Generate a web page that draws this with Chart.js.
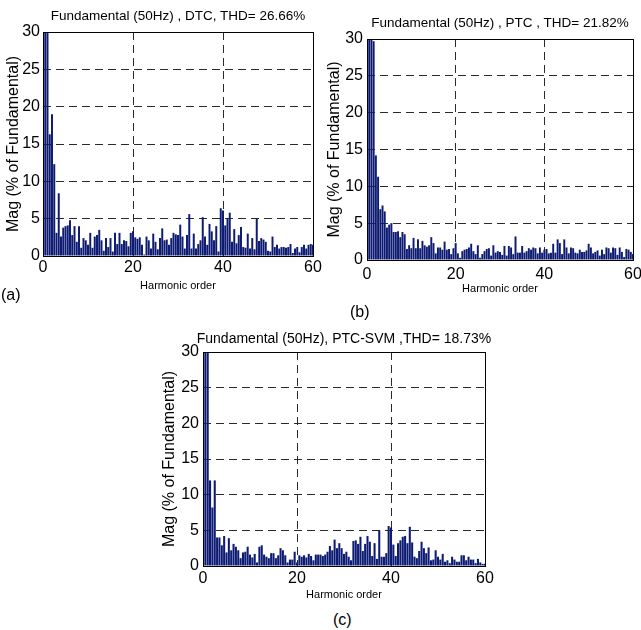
<!DOCTYPE html>
<html>
<head>
<meta charset="utf-8">
<script src="https://cdn.jsdelivr.net/npm/chart.js@4.4.1/dist/chart.umd.min.js"></script>
<style>
  html, body { margin: 0; padding: 0; background: #fff; width: 641px; height: 630px; overflow: hidden; }
  canvas { position: absolute; }
  .txt { position: absolute; font-family: "Liberation Sans", Arial, sans-serif; color: #000; line-height: 1; white-space: nowrap; }
  .ttl { transform: translateX(-50%); }
</style>
</head>
<body>
<canvas id="spectrumA" width="340" height="300" style="left:0px;top:0px"></canvas>
<canvas id="spectrumB" width="330" height="300" style="left:322px;top:0px"></canvas>
<canvas id="spectrumC" width="345" height="310" style="left:155px;top:300px"></canvas>

<div class="txt ttl" style="left:178px;top:8.5px;font-size:13.5px">Fundamental (50Hz) , DTC, THD= 26.66%</div>
<div class="txt ttl" style="left:500px;top:15.8px;font-size:13.5px">Fundamental (50Hz) , PTC , THD= 21.82%</div>
<div class="txt ttl" style="left:344px;top:330.5px;font-size:14px">Fundamental (50Hz), PTC-SVM ,THD= 18.73%</div>

<div class="txt" style="left:1px;top:287px;font-size:16px">(a)</div>
<div class="txt" style="left:350px;top:304px;font-size:16px">(b)</div>
<div class="txt" style="left:333px;top:612px;font-size:16px">(c)</div>

<script>
// Harmonic orders of the FFT bins (half-harmonic resolution, 0 … 60)
const harmonicOrders = [];
for (let k = 0; k <= 120; k++) harmonicOrders.push(k / 2);

// Magnitudes in % of the fundamental, one value per bin
const dtcMag = [
  31, 40, 100, 16.3, 19.0, 12.3, 3.1, 8.4, 2.6, 3.8,
  4.0, 4.1, 4.8, 2.8, 4.0, 1.9, 4.0, 1.1, 2.4, 2.1,
  1.5, 3.1, 1.1, 2.6, 2.8, 3.5, 2.1, 0.7, 2.4, 1.2,
  2.4, 0.6, 3.1, 1.6, 3.1, 1.6, 2.1, 2.0, 1.3, 3.1,
  3.3, 2.5, 2.3, 2.5, 1.5, 0.2, 2.6, 2.1, 1.0, 3.0,
  1.9, 0.9, 2.4, 3.7, 2.1, 2.2, 1.5, 2.4, 3.1, 2.9,
  2.8, 4.2, 2.6, 1.0, 2.8, 5.6, 1.0, 3.0, 1.0, 1.6,
  2.1, 5.2, 2.6, 1.5, 4.3, 3.3, 2.1, 4.0, 0.6, 6.4,
  6.1, 4.1, 5.0, 5.8, 1.9, 3.6, 1.7, 2.8, 3.9, 1.2,
  1.1, 3.0, 1.0, 2.4, 0.9, 5.0, 2.0, 2.4, 2.2, 1.9,
  0.7, 0.6, 2.6, 1.2, 1.5, 1.0, 1.2, 1.2, 1.1, 1.2,
  1.6, 0.4, 1.0, 1.2, 0.5, 1.2, 1.5, 1.0, 1.5, 1.6,
  1.5
];

const ptcMag = [
  35, 45, 100, 29.7, 14.2, 11.3, 6.9, 7.4, 6.6, 4.4,
  4.8, 5.0, 3.8, 3.8, 3.9, 3.1, 3.8, 3.5, 1.5, 2.0,
  1.6, 3.0, 1.6, 2.8, 1.6, 2.6, 2.0, 1.8, 2.0, 3.1,
  2.3, 0.9, 1.7, 1.7, 1.4, 2.5, 1.4, 1.5, 0.8, 1.6,
  2.3, 0.9, 0.3, 1.2, 1.4, 1.5, 1.7, 2.2, 1.2, 0.8,
  2.0, 0.3, 0.8, 1.2, 1.5, 1.6, 0.6, 2.0, 1.0, 1.2,
  1.1, 0.7, 1.9, 0.6, 1.9, 1.7, 0.8, 3.2, 1.0, 1.0,
  1.9, 1.0, 1.2, 1.6, 1.4, 1.7, 1.6, 0.9, 1.7, 1.0,
  1.4, 1.5, 0.9, 1.0, 2.2, 1.0, 2.8, 2.3, 0.8, 2.8,
  1.7, 0.9, 1.7, 1.6, 1.0, 0.9, 1.4, 1.1, 1.1, 1.3,
  2.2, 1.7, 0.9, 1.1, 1.3, 0.6, 1.4, 0.8, 1.7, 1.6,
  1.0, 1.7, 1.6, 0.7, 1.7, 1.1, 0.4, 1.5, 1.4, 1.1,
  0.8
];

const ptcSvmMag = [
  33, 42, 100, 12.0, 8.2, 12.0, 4.0, 4.0, 2.9, 4.2,
  1.9, 3.9, 2.2, 3.1, 2.7, 2.2, 1.1, 1.9, 2.0, 2.7,
  1.6, 1.2, 1.7, 0.5, 2.7, 2.9, 1.6, 1.3, 1.1, 1.8,
  1.8, 1.1, 1.5, 2.5, 2.2, 1.5, 0.5, 0.9, 0.9, 2.0,
  0.5, 1.5, 1.3, 1.5, 1.2, 1.7, 1.4, 0.8, 1.6, 1.6,
  1.6, 1.4, 1.6, 2.0, 2.8, 2.2, 3.7, 2.5, 3.2, 2.5,
  1.7, 2.0, 1.3, 0.8, 3.5, 3.6, 3.1, 4.1, 2.1, 3.1,
  4.2, 3.4, 1.4, 3.2, 1.0, 5.0, 1.3, 1.3, 1.8, 5.6,
  5.4, 3.0, 1.4, 3.2, 3.6, 4.1, 4.2, 3.2, 5.5, 3.3,
  1.3, 1.1, 2.1, 3.4, 2.5, 1.8, 2.6, 0.8, 0.9, 2.2,
  1.3, 0.9, 1.7, 0.6, 0.8, 0.4, 1.3, 0.9, 0.6, 0.6,
  1.5, 1.5, 0.8, 1.3, 0.9, 0.9, 0.4, 1.0, 0.5, 0.3,
  0.3
];

// Axis ticks
const orderTicks = [0, 20, 40, 60];
const magTicks = [0, 5, 10, 15, 20, 25, 30];

const FONT = '"Liberation Sans", Arial, sans-serif';
const BAR_COLOR = '#0d1b72';
const GRID_COLOR = '#2a2a2a';

// Solid box around the plotting area (axes drawn on all four sides)
const boxFrame = {
  id: 'boxFrame',
  afterDatasetsDraw(chart) {
    const { ctx, chartArea: a } = chart;
    const al = p => Math.round(p - 0.5) + 0.5;
    ctx.save();
    ctx.strokeStyle = '#000';
    ctx.lineWidth = 1;
    ctx.setLineDash([]);
    ctx.strokeRect(al(a.left), al(a.top), al(a.right) - al(a.left), al(a.bottom) - al(a.top));
    ctx.restore();
  }
};

function spectrumChart(id, values, g) {
  const points = harmonicOrders.map((h, i) => ({ x: h, y: values[i] }));
  const edge = (v, lo, hi) => (v === lo || v === hi) ? 'rgba(0,0,0,0)' : GRID_COLOR;
  return new Chart(document.getElementById(id), {
    type: 'bar',
    data: {
      datasets: [{
        data: points,
        backgroundColor: BAR_COLOR,
        borderWidth: 0,
        barPercentage: 0.88,
        categoryPercentage: 1.0,
        clip: 0
      }]
    },
    options: {
      responsive: false,
      animation: false,
      devicePixelRatio: 1,
      layout: { padding: { left: 0, top: g.padTop, right: g.padRight, bottom: 0 } },
      plugins: { legend: { display: false }, tooltip: { enabled: false }, title: { display: false } },
      scales: {
        x: {
          type: 'linear',
          min: 0, max: 60,
          offset: false,
          afterBuildTicks: s => { s.ticks = orderTicks.map(v => ({ value: v })); },
          afterFit: s => { s.height = g.xAxisHeight; },
          border: { display: false, dash: [8, 5] },
          grid: {
            offset: false,
            drawTicks: false,
            color: c => edge(c.tick && c.tick.value, 0, 60),
            lineWidth: 1
          },
          ticks: {
            padding: g.xTickPad,
            color: '#000',
            maxRotation: 0,
            font: { family: FONT, size: 16, lineHeight: 1.2 },
            callback: v => String(v)
          },
          title: {
            display: true,
            text: 'Harmonic order',
            color: '#000',
            font: { family: FONT, size: 11, lineHeight: 1.2 },
            padding: { top: 0, bottom: g.xTitlePad }
          }
        },
        y: {
          min: 0, max: 30,
          afterBuildTicks: s => { s.ticks = magTicks.map(v => ({ value: v })); },
          afterFit: s => { s.width = g.yAxisWidth; },
          border: { display: false, dash: [8, 5] },
          grid: {
            drawTicks: false,
            color: c => edge(c.tick && c.tick.value, 0, 30),
            lineWidth: 1
          },
          ticks: {
            padding: g.yTickPad,
            color: '#000',
            font: { family: FONT, size: 16, lineHeight: 1.2 },
            callback: v => String(v)
          },
          title: {
            display: true,
            text: 'Mag (% of Fundamental)',
            color: '#000',
            font: { family: FONT, size: 16, lineHeight: 1.2 },
            padding: { top: g.yTitlePad, bottom: 0 }
          }
        }
      }
    },
    plugins: [boxFrame]
  });
}

spectrumChart('spectrumA', dtcMag, {
  padTop: 32, padRight: 27, yAxisWidth: 43, xAxisHeight: 44,
  xTickPad: 2, xTitlePad: 7.4, yTickPad: 3, yTitlePad: 4.4
});
spectrumChart('spectrumB', ptcMag, {
  padTop: 39, padRight: 19, yAxisWidth: 45, xAxisHeight: 40,
  xTickPad: 5.4, xTitlePad: 4.4, yTickPad: 4, yTitlePad: 3.4
});
spectrumChart('spectrumC', ptcSvmMag, {
  padTop: 52, padRight: 15, yAxisWidth: 48, xAxisHeight: 44,
  xTickPad: 2.9, xTitlePad: 8.4, yTickPad: 4, yTitlePad: 5.4
});
</script>
</body>
</html>
